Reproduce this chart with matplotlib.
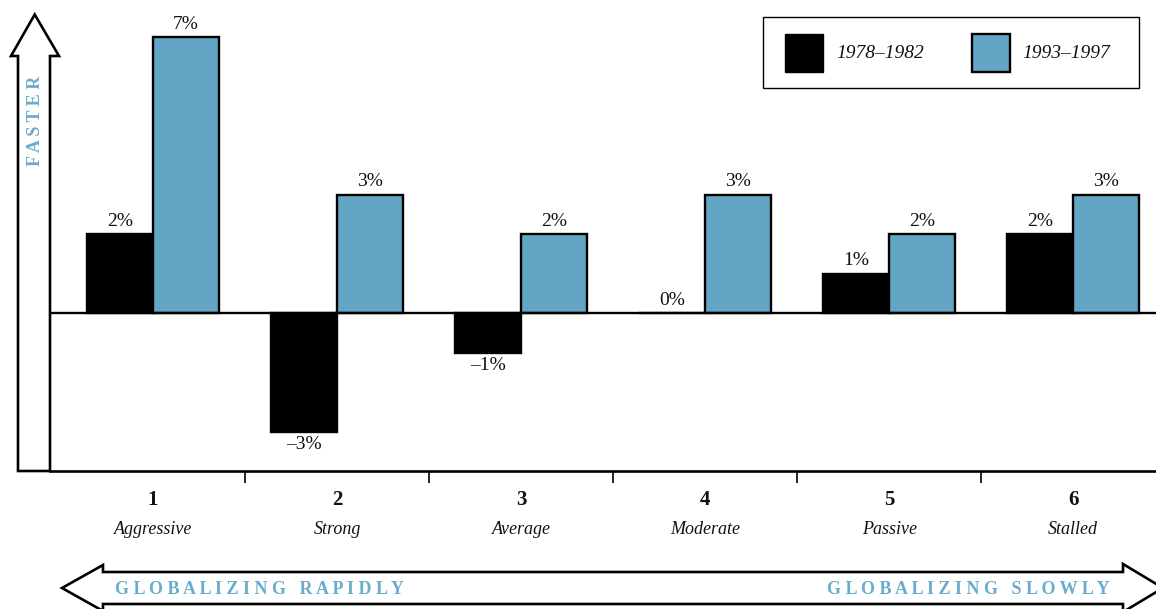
import matplotlib
matplotlib.use("Agg")
import matplotlib.pyplot as plt
import numpy as np
from matplotlib.patches import Polygon, Rectangle
from matplotlib.transforms import blended_transform_factory

# Data
categories = ["1", "2", "3", "4", "5", "6"]
category_names = ["Aggressive", "Strong", "Average", "Moderate", "Passive", "Stalled"]
series_labels = ["1978\u20131982", "1993\u20131997"]
growth_1978_1982 = [2, -3, -1, 0, 1, 2]
growth_1993_1997 = [7, 3, 2, 3, 2, 3]

plt.rcParams['font.family'] = ['Liberation Serif', 'DejaVu Serif']

W, H = 1156, 609
BLUE = "#62a5c5"
TEXT_BLUE = "#6aaccb"

fig = plt.figure(figsize=(W / 100, H / 100), dpi=100)

# Overlay in pixel coordinates for arrows and legend
ov = fig.add_axes([0, 0, 1, 1], zorder=0)
ov.set_xlim(0, W)
ov.set_ylim(H, 0)
ov.axis("off")

# Main bar axes
ax = fig.add_axes([50 / W, (H - 471) / H, 1 - 50 / W, 458 / H], zorder=2)
ax.patch.set_alpha(0)
ax.set_ylim(-4, 7.6)
ax.set_xlim(-0.56, 5.45)

x = np.arange(len(categories))
bw = 0.36
ax.bar(x - bw / 2, growth_1978_1982, width=bw, color="black",
       edgecolor="black", linewidth=1.7, zorder=3)
ax.bar(x + bw / 2, growth_1993_1997, width=bw, color=BLUE,
       edgecolor="black", linewidth=1.7, zorder=3)
ax.axhline(0, color="black", linewidth=1.7, zorder=4)

def pct(v):
    return ("\u2013" if v < 0 else "") + f"{abs(v)}%"

for xs, vals in ((x - bw / 2, growth_1978_1982), (x + bw / 2, growth_1993_1997)):
    for xi, v in zip(xs, vals):
        if v >= 0:
            ax.annotate(pct(v), (xi, v), xytext=(0, 3), textcoords="offset points",
                        ha="center", va="bottom", fontsize=14, color="#111111")
        else:
            ax.annotate(pct(v), (xi, v), xytext=(0, -3), textcoords="offset points",
                        ha="center", va="top", fontsize=14, color="#111111")

for s in ("top", "right", "left"):
    ax.spines[s].set_visible(False)
ax.spines["bottom"].set_linewidth(1.9)
ax.set_yticks([])
ax.set_xticks(x)
ax.set_xticklabels([])
ax.tick_params(axis="x", which="major", length=0)
ax.set_xticks(x[:-1] + 0.5, minor=True)
ax.tick_params(axis="x", which="minor", length=8.5, width=1.2, direction="out")

# Category labels under the axis
lt = blended_transform_factory(ax.transData, ov.transData)
for xi, num, name in zip(x, categories, category_names):
    ax.text(xi, 500, num, transform=lt, ha="center", va="center",
            fontsize=15, fontweight="bold", color="#111111")
    ax.text(xi, 530, name, transform=lt, ha="center", va="center",
            fontsize=13, style="italic", color="#111111")

# Vertical "faster" arrow (its right edge doubles as the value axis)
up = Polygon([(18, 471), (18, 56), (11, 56), (34.7, 14.5), (59, 56), (50, 56), (50, 471)],
             closed=True, facecolor="white", edgecolor="black", linewidth=1.9,
             joinstyle="miter")
ov.add_patch(up)
ov.text(35, 121, "F A S T E R", rotation=90, ha="center", va="center",
        fontsize=13, fontweight="bold", color=TEXT_BLUE)

# Horizontal globalization arrow
hz = Polygon([(62, 588), (103, 565), (103, 572), (1123, 572), (1123, 564), (1163, 588),
              (1123, 612), (1123, 604), (103, 604), (103, 611)],
             closed=True, facecolor="white", edgecolor="black", linewidth=1.9,
             joinstyle="miter", clip_on=True)
ov.add_patch(hz)
ov.text(115, 589, "G L O B A L I Z I N G   R A P I D L Y", ha="left", va="center",
        fontsize=13, fontweight="bold", color=TEXT_BLUE)
ov.text(1110, 589, "G L O B A L I Z I N G   S L O W L Y", ha="right", va="center",
        fontsize=13, fontweight="bold", color=TEXT_BLUE)

# Legend
ov.add_patch(Rectangle((763, 17), 376, 71, facecolor="white", edgecolor="black",
                       linewidth=1.0, zorder=5))
ov.add_patch(Rectangle((785, 34), 38, 38, facecolor="black", edgecolor="black",
                       linewidth=1.0, zorder=6))
ov.add_patch(Rectangle((972, 34), 38, 38, facecolor=BLUE, edgecolor="black",
                       linewidth=1.7, zorder=6))
ov.text(836, 54, series_labels[0], ha="left", va="center", fontsize=14,
        style="italic", color="#111111", zorder=7)
ov.text(1022, 54, series_labels[1], ha="left", va="center", fontsize=14,
        style="italic", color="#111111", zorder=7)

fig.savefig("out.png", dpi=100)
